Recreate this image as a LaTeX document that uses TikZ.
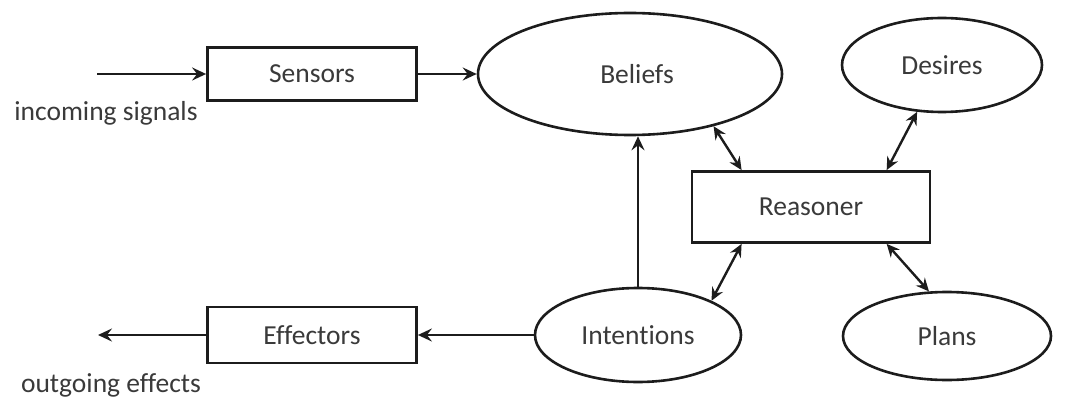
\documentclass[tikz,border=0pt]{standalone}
\usepackage{fontspec}
\setmainfont[Ligatures=NoCommon]{Carlito}
\usetikzlibrary{shapes.geometric,arrows.meta}
\definecolor{ink}{HTML}{1C1C1C}
\definecolor{txt}{HTML}{3A3A3A}
\begin{document}
\begin{tikzpicture}[x=1pt,y=-1pt,
  every node/.style={font=\fontsize{27.5}{30}\selectfont, text=txt},
  boxnode/.style={draw=ink, line width=2.8pt, rectangle, inner sep=0pt},
  ellnode/.style={draw=ink, line width=2.6pt, ellipse, inner sep=0pt},
  tip/.style={Stealth[length=14pt,width=13pt,inset=5pt]},
  conn/.style={draw=ink, line width=2.6pt, -{Stealth[length=14pt,width=13pt,inset=5pt]}},
  biconn/.style={draw=ink, line width=2.4pt, {Stealth[length=13pt,width=12pt,inset=4.5pt]}-{Stealth[length=13pt,width=12pt,inset=4.5pt]}},
  lbl/.style={inner sep=0pt}]
  \fill[white] (0,0) rectangle (1073,398);
  \useasboundingbox (0,0) rectangle (1073,398);

  % boxes
  \node[boxnode, minimum width=209pt, minimum height=53pt] (sensors) at (312,74) {Sensors};
  \node[boxnode, minimum width=209pt, minimum height=56pt] (effectors) at (312,335) {Effectors};
  \node[boxnode, minimum width=238pt, minimum height=71pt] (reasoner) at (811,207) {Reasoner};

  % ellipses
  \node[ellnode, minimum width=304pt, minimum height=122pt] (beliefs) at (630,74) {\hspace*{14pt}Beliefs};
  \node[ellnode, minimum width=200pt, minimum height=94pt] (desires) at (942,65) {Desires};
  \node[ellnode, minimum width=206pt, minimum height=94pt] (intentions) at (638,335) {Intentions};
  \node[ellnode, minimum width=208pt, minimum height=88pt] (plans) at (947,336) {Plans};

  % free ends of the outer connectors
  \coordinate (insig) at (97,74);
  \coordinate (outeff) at (98,335);

  % labels
  \node[lbl] (inlabel) at (106,113) {incoming signals};
  \node[lbl] (outlabel) at (111,385) {outgoing effects};

  % connectors
  \draw[conn] (insig) -- (sensors.west);
  \draw[conn] (sensors.east) -- (beliefs.west);
  \draw[conn] (intentions.west) -- (effectors.east);
  \draw[conn] (effectors.west) -- (outeff);
  \draw[conn] (intentions.north) -- (intentions.north |- beliefs.south);
  \draw[biconn] (beliefs.-32) -- (reasoner.152);
  \draw[biconn] (desires.-118) -- (reasoner.26);
  \draw[biconn] (reasoner.-152) -- (intentions.25);
  \draw[biconn] (reasoner.-26) -- (plans.112);
\end{tikzpicture}
\end{document}
